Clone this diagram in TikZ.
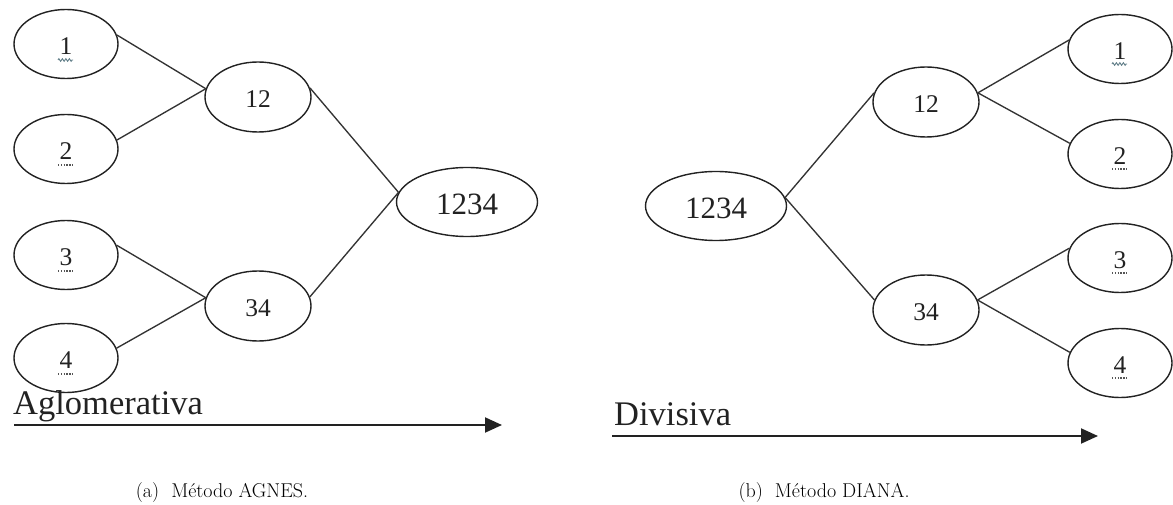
\documentclass[tikz,border=0pt]{standalone}
\usepackage{fontspec}
\newfontfamily\diagfont{Liberation Serif}
\usetikzlibrary{arrows.meta,shapes.geometric,decorations.pathmorphing}
\definecolor{ink}{HTML}{222222}
\definecolor{wire}{HTML}{333333}
\definecolor{squiggle}{RGB}{95,125,135}
\definecolor{dots}{HTML}{555555}
\begin{document}
\begin{tikzpicture}[x=1pt,y=-1pt,
  cluster/.style={ellipse,draw=ink,line width=1.4pt,inner sep=0pt,
    minimum width=106pt,minimum height=70pt,text=ink,
    font=\diagfont\fontsize{25.5}{25.5}\selectfont,text height=21pt,text depth=0pt},
  leaf/.style={cluster,minimum width=104pt,minimum height=69pt},
  root/.style={cluster,minimum width=141pt,minimum height=69pt,
    font=\diagfont\fontsize{31}{31}\selectfont,text height=25pt},
  link/.style={draw=wire,line width=1.35pt},
  flow/.style={draw=ink,line width=2pt,-{Triangle[length=17pt,width=15pt]}},
  heading/.style={anchor=base west,inner sep=0pt,text=ink,
    font=\diagfont\fontsize{34.5}{34.5}\selectfont},
  caption/.style={anchor=base,inner sep=0pt,font=\fontsize{20}{23}\selectfont},
  dotmark/.style={draw=dots,line width=1.3pt,dash pattern=on 1.4pt off 1.4pt},
  wavemark/.style={draw=squiggle,line width=0.9pt,
    decorate,decoration={zigzag,segment length=3.5pt,amplitude=1.3pt}}]
\useasboundingbox (0,0) rectangle (1173,505);

% ---- agglomerative (AGNES) ----
\node[leaf] (a1) at (66,44) {1};
\node[leaf] (a2) at (66,149) {2};
\node[leaf] (a3) at (66,255) {3};
\node[leaf] (a4) at (66,358) {4};
\node[cluster] (a12) at (258,97) {12};
\node[cluster] (a34) at (258,306) {34};
\node[root] (a1234) at (467,202) {1234};

\draw[link] (a1.10) -- (a12.171);
\draw[link] (a2.10) -- (a12.171);
\draw[link] (a3.11) -- (a34.171);
\draw[link] (a4.11) -- (a34.171);
\draw[link] (a12.10) -- (a1234.172);
\draw[link] (a34.10) -- (a1234.172);

\draw[wavemark] ([xshift=-8pt,yshift=-16pt]a1.center) -- ++(15,0);
\draw[dotmark] ([xshift=-8pt,yshift=-16pt]a2.center) -- ++(16,0);
\draw[dotmark] ([xshift=-8pt,yshift=-16pt]a3.center) -- ++(16,0);
\draw[dotmark] ([xshift=-8pt,yshift=-16pt]a4.center) -- ++(16,0);

\node[heading] (agl) at (13,414) {Aglomerativa};
\coordinate (aflowS) at (14,425);
\coordinate (aflowE) at (502,425);
\draw[flow] (aflowS) -- (aflowE);
\node[caption] (capa) at (222,497) {(a)\hspace{0.6em}Método AGNES.};

% ---- divisive (DIANA) ----
\node[root] (d1234) at (716,206) {1234};
\node[cluster] (d12) at (926,102) {12};
\node[cluster] (d34) at (926,310) {34};
\node[leaf] (d1) at (1120,49) {1};
\node[leaf] (d2) at (1120,154) {2};
\node[leaf] (d3) at (1120,258) {3};
\node[leaf] (d4) at (1120,363) {4};

\draw[link] (d1234.7) -- (d12.170);
\draw[link] (d1234.7) -- (d34.169);
\draw[link] (d12.10) -- (d1.170);
\draw[link] (d12.10) -- (d2.168);
\draw[link] (d34.11) -- (d3.169);
\draw[link] (d34.11) -- (d4.168);

\draw[wavemark] ([xshift=-8pt,yshift=-15pt]d1.center) -- ++(15,0);
\draw[dotmark] ([xshift=-8pt,yshift=-15pt]d2.center) -- ++(16,0);
\draw[dotmark] ([xshift=-8pt,yshift=-15pt]d3.center) -- ++(16,0);
\draw[dotmark] ([xshift=-8pt,yshift=-15pt]d4.center) -- ++(16,0);

\node[heading] (div) at (614,425) {Divisiva};
\coordinate (dflowS) at (612,436);
\coordinate (dflowE) at (1098,436);
\draw[flow] (dflowS) -- (dflowE);
\node[caption] (capb) at (824,497) {(b)\hspace{0.6em}Método DIANA.};
\end{tikzpicture}
\end{document}
